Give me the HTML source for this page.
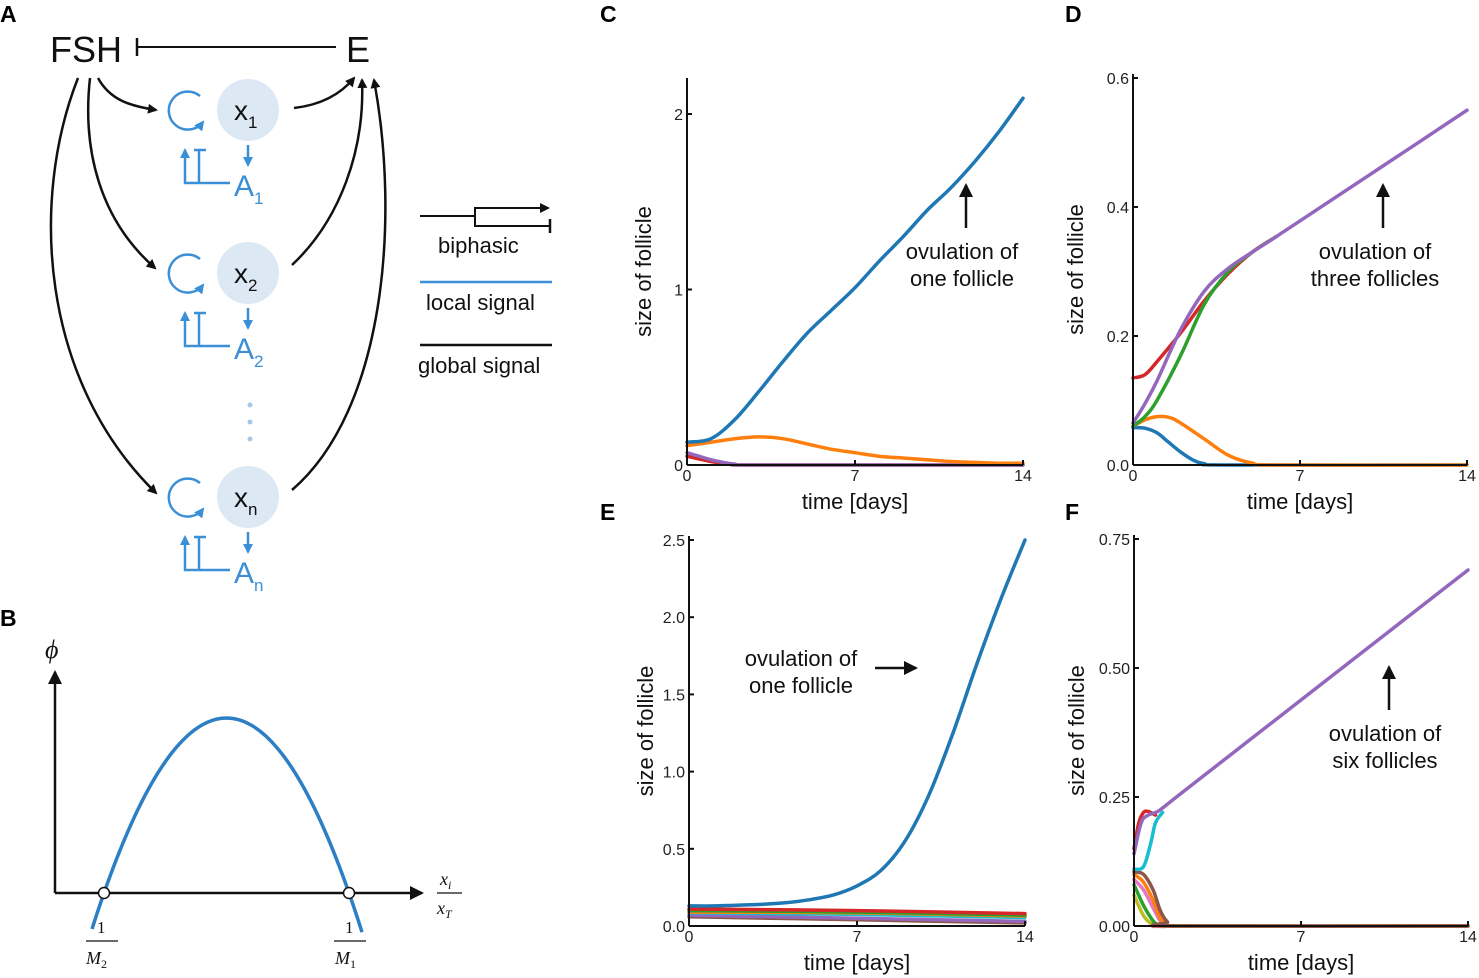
<!DOCTYPE html>
<html><head><meta charset="utf-8">
<style>
html,body{margin:0;padding:0;background:#fff;}
svg{display:block;font-family:"Liberation Sans","DejaVu Sans",sans-serif;}
.tick{font-size:16px;fill:#222;}
.lab{font-size:22px;fill:#111;}
.pl{font-size:23px;font-weight:bold;fill:#000;}
</style></head>
<body>
<svg id="fig" width="1479" height="978" viewBox="0 0 1479 978" xmlns="http://www.w3.org/2000/svg">
<defs>
<marker id="ak" markerWidth="10" markerHeight="10" refX="8" refY="5" orient="auto" markerUnits="userSpaceOnUse"><path d="M0,0 L10,5 L0,10 z" fill="#111"/></marker>
<marker id="ab" markerWidth="10" markerHeight="10" refX="8" refY="5" orient="auto" markerUnits="userSpaceOnUse"><path d="M0,0 L10,5 L0,10 z" fill="#3a8fd6"/></marker>
<marker id="ak2" markerWidth="14" markerHeight="14" refX="12" refY="7" orient="auto" markerUnits="userSpaceOnUse"><path d="M0,0 L14,7 L0,14 z" fill="#111"/></marker>
</defs>

<text class="pl" x="0" y="22">A</text>
<text class="pl" x="0" y="626">B</text>
<text class="pl" x="600" y="22">C</text>
<text class="pl" x="1065" y="22">D</text>
<text class="pl" x="600" y="520">E</text>
<text class="pl" x="1065" y="520">F</text>

<g id="panelA">
<text x="50" y="62" font-size="36" fill="#111">FSH</text>
<text x="346" y="62" font-size="36" fill="#111">E</text>
<line x1="137" y1="47" x2="336" y2="47" stroke="#111" stroke-width="2"/>
<line x1="137" y1="38" x2="137" y2="56" stroke="#111" stroke-width="2.5"/>
<g fill="none" stroke="#111" stroke-width="2.5">
<path d="M98,78 C110,100 130,106 156,110" marker-end="url(#ak)"/>
<path d="M90,78 C82,150 100,220 155,268" marker-end="url(#ak)"/>
<path d="M78,78 C30,200 40,380 156,493" marker-end="url(#ak)"/>
<path d="M294,108 C320,105 340,95 354,78" marker-end="url(#ak)"/>
<path d="M292,265 C340,220 365,150 362,80" marker-end="url(#ak)"/>
<path d="M292,490 C385,410 400,220 374,80" marker-end="url(#ak)"/>
</g>
<circle cx="250" cy="405" r="2.5" fill="#a9c6e4"/>
<circle cx="250" cy="422" r="2.5" fill="#a9c6e4"/>
<circle cx="250" cy="439" r="2.5" fill="#a9c6e4"/>
</g>

<g>
<polyline points="420,216 475,216 475,208 548,208" fill="none" stroke="#111" stroke-width="2" marker-end="url(#ak)"/>
<polyline points="475,208 475,226 549,226" fill="none" stroke="#111" stroke-width="2"/>
<line x1="550" y1="219" x2="550" y2="233" stroke="#111" stroke-width="2.5"/>
<text x="438" y="253" font-size="22" fill="#111">biphasic</text>
<line x1="420" y1="282" x2="552" y2="282" stroke="#3a8fd6" stroke-width="2.5"/>
<text x="426" y="310" font-size="22" fill="#111">local signal</text>
<line x1="420" y1="345" x2="552" y2="345" stroke="#111" stroke-width="2.5"/>
<text x="418" y="373" font-size="22" fill="#111">global signal</text>
</g>

<g>
<line x1="55" y1="893" x2="55" y2="672" stroke="#111" stroke-width="2.5" marker-end="url(#ak2)"/>
<line x1="55" y1="893" x2="422" y2="893" stroke="#111" stroke-width="2.5" marker-end="url(#ak2)"/>
<text x="45" y="658" font-size="26" font-style="italic" fill="#111" font-family="Liberation Serif,serif">ϕ</text>
<path id="parab" fill="none" stroke="#2c7fc4" stroke-width="3.5"/>
<circle cx="104" cy="893" r="5.5" fill="#fff" stroke="#111" stroke-width="1.5"/>
<circle cx="349" cy="893" r="5.5" fill="#fff" stroke="#111" stroke-width="1.5"/>
<g font-family="Liberation Serif,serif" font-style="italic" fill="#111">
<text x="97" y="933" font-size="17" font-style="normal">1</text>
<line x1="86" y1="941" x2="118" y2="941" stroke="#111" stroke-width="1.2"/>
<text x="86" y="964" font-size="18">M<tspan font-size="12" dy="4" font-style="normal">2</tspan></text>
<text x="345" y="933" font-size="17" font-style="normal">1</text>
<line x1="334" y1="941" x2="366" y2="941" stroke="#111" stroke-width="1.2"/>
<text x="335" y="964" font-size="18">M<tspan font-size="12" dy="4" font-style="normal">1</tspan></text>
<text x="440" y="885" font-size="18">x<tspan font-size="12" dy="4">i</tspan></text>
<line x1="437" y1="893" x2="462" y2="893" stroke="#111" stroke-width="1.2"/>
<text x="437" y="914" font-size="18">x<tspan font-size="12" dy="4">T</tspan></text>
</g>
</g>

<g id="charts"></g>
</svg>

<script>
// ---- Panel C data ----
const cDays = [0,1,2,3,4,5,6,7,8,9,10,11,12,13,14];
const cBlue = [0.13,0.15,0.26,0.42,0.59,0.75,0.88,1.01,1.16,1.30,1.45,1.58,1.73,1.90,2.09];
const cOrange = [0.11,0.13,0.15,0.16,0.15,0.12,0.09,0.07,0.05,0.04,0.03,0.02,0.015,0.01,0.01];
const cPurpleDays = [0,0.5,1,1.5,2,3,14];
const cPurple = [0.07,0.05,0.03,0.015,0.005,0,0];
const cRed = [0.05,0.035,0.02,0.01,0.003,0,0];
const cTicksY = [0,1,2];
// ---- Panel D data ----
const dBlueDays = [0,0.5,1,1.5,2,2.5,3,4,14];
const dBlue = [0.058,0.057,0.05,0.035,0.02,0.008,0.002,0,0];
const dOrangeDays = [0,0.5,1,1.5,2,3,4,5,6,14];
const dOrange = [0.06,0.07,0.075,0.074,0.065,0.04,0.015,0.003,0,0];
const dRiseDays = [0,0.5,1,2,3,4,5,6];
const dRed = [0.135,0.14,0.16,0.205,0.255,0.297,0.33,0.354];
const dGreen = [0.06,0.075,0.1,0.17,0.25,0.3,0.33,0.354];
const dPurpleDays = [0,0.5,1,2,3,4,5,6,8,10,12,14];
const dPurple = [0.065,0.095,0.13,0.21,0.27,0.305,0.33,0.354,0.403,0.452,0.501,0.55];
const dTicksY = [0,0.2,0.4,0.6];
// ---- Panel E data ----
const eDays = [0,1,2,3,4,5,6,7,8,9,10,11,12,13,14];
const eBlue = [0.13,0.13,0.135,0.14,0.15,0.17,0.2,0.26,0.36,0.55,0.85,1.25,1.7,2.12,2.5];
const eOtherDays = [0,7,14];
const eRed = [0.11,0.1,0.08];
const eOrange = [0.09,0.085,0.065];
const eGreen = [0.1,0.09,0.07];
const ePurple = [0.07,0.05,0.03];
const eCyan = [0.085,0.075,0.055];
const eBrown = [0.06,0.04,0.02];
const eTicksY = [0,0.5,1.0,1.5,2.0,2.5];
// ---- Panel F data ----
const fPurpleDays = [0,0.3,0.6,1,1.5,2,4,6,8,10,12,14];
const fPurple = [0.14,0.2,0.215,0.222,0.24,0.258,0.33,0.402,0.474,0.546,0.618,0.69];
const fRedDays = [0,0.2,0.4,0.6,0.9];
const fRed = [0.15,0.2,0.22,0.222,0.215];
const fCyanDays = [0,0.4,0.7,0.9,1.2];
const fCyan = [0.11,0.115,0.16,0.2,0.22];
const fDecayDays = [0,0.4,0.8,1.1,1.4,1.8,14];
const fBrown = [0.105,0.1,0.07,0.03,0.008,0,0];
const fOrange = [0.1,0.085,0.05,0.015,0.003,0,0];
const fPink = [0.09,0.07,0.035,0.01,0,0,0];
const fGreen = [0.08,0.04,0.01,0,0,0,0];
const fOlive = [0.06,0.02,0.002,0,0,0,0];
const fTicksY = [0,0.25,0.5,0.75];
const xTicks = [0,7,14];

const NS="http://www.w3.org/2000/svg";
const root=document.getElementById('charts');
function mk(tag,attrs,parent){const e=document.createElementNS(NS,tag);for(const k in attrs)e.setAttribute(k,attrs[k]);(parent||root).appendChild(e);return e;}
function smooth(p){
  let d='M'+p[0][0].toFixed(1)+','+p[0][1].toFixed(1);
  for(let i=0;i<p.length-1;i++){
    const p0=p[i-1]||p[i],p1=p[i],p2=p[i+1],p3=p[i+2]||p2;
    const c1=[p1[0]+(p2[0]-p0[0])/6,p1[1]+(p2[1]-p0[1])/6];
    const c2=[p2[0]-(p3[0]-p1[0])/6,p2[1]-(p3[1]-p1[1])/6];
    d+=' C'+c1[0].toFixed(1)+','+c1[1].toFixed(1)+' '+c2[0].toFixed(1)+','+c2[1].toFixed(1)+' '+p2[0].toFixed(1)+','+p2[1].toFixed(1);
  }
  return d;
}

function panel(key,x0,x1,y0px,yTopVal,yTopPx,axisTop,ticksY,fmt,series,titleOff){
  const g=mk('g',{});
  
  
  const sx=t=>x0+(x1-x0)*t/14;
  const sy=v=>y0px-(y0px-yTopPx)*v/yTopVal;
  series.forEach(s=>{
    const pts=s.x.map((t,i)=>[sx(t),Math.min(y0px,sy(s.y[i]))]);
    const p=mk('path',{d:smooth(pts),fill:'none',stroke:s.c,'stroke-width':3.5,'stroke-linejoin':'round','stroke-linecap':'round'},g);
    
    
  });
  const ax=mk('g',{stroke:'#111','stroke-width':2},g);
  
  
  mk('line',{x1:x0,y1:axisTop,x2:x0,y2:y0px},ax);
  mk('line',{x1:x0,y1:y0px,x2:x1,y2:y0px},ax);
  ticksY.forEach(v=>{
    mk('line',{x1:x0,y1:sy(v),x2:x0+5,y2:sy(v)},ax);
    const t=mk('text',{x:x0-4,y:sy(v)+6,'text-anchor':'end',class:'tick'},g);
    t.textContent=fmt(v);
    
    
  });
  xTicks.forEach(v=>{
    mk('line',{x1:sx(v),y1:y0px,x2:sx(v),y2:y0px-5},ax);
    const t=mk('text',{x:sx(v),y:y0px+16,'text-anchor':'middle',class:'tick'},g);
    t.textContent=v;
    
    
  });
  const xl=mk('text',{x:(x0+x1)/2,y:y0px+44,'text-anchor':'middle',class:'lab'},g);
  xl.textContent='time [days]';
  
  
  const yx=x0-titleOff, yy=(axisTop+y0px)/2;
  const yl=mk('text',{x:yx,y:yy,'text-anchor':'middle',class:'lab',transform:'rotate(-90 '+yx+' '+yy+')'},g);
  yl.textContent='size of follicle';
  
  
}
const B='#1f77b4',O='#ff7f0e',G='#2ca02c',R='#d62728',P='#9467bd',BR='#8c564b',PK='#e377c2',OL='#bcbd22',CY='#17becf';

panel('c',687,1023,465,2,114,78,cTicksY,v=>String(v),[
 {n:'red',x:cPurpleDays,y:cRed,c:R},
 {n:'purple',x:cPurpleDays,y:cPurple,c:P},
 {n:'orange',x:cDays,y:cOrange,c:O},
 {n:'blue',x:cDays,y:cBlue,c:B}],36);
panel('d',1133,1467,465,0.6,78,74,dTicksY,v=>v.toFixed(1),[
 {n:'blue',x:dBlueDays,y:dBlue,c:B},
 {n:'orange',x:dOrangeDays,y:dOrange,c:O},
 {n:'red',x:dRiseDays,y:dRed,c:R},
 {n:'green',x:dRiseDays,y:dGreen,c:G},
 {n:'purple',x:dPurpleDays,y:dPurple,c:P}],50);
panel('e',689,1025,926,2.5,540,536,eTicksY,v=>v.toFixed(1),[
 {n:'brown',x:eOtherDays,y:eBrown,c:BR},
 {n:'purple',x:eOtherDays,y:ePurple,c:P},
 {n:'cyan',x:eOtherDays,y:eCyan,c:CY},
 {n:'orange',x:eOtherDays,y:eOrange,c:O},
 {n:'green',x:eOtherDays,y:eGreen,c:G},
 {n:'red',x:eOtherDays,y:eRed,c:R},
 {n:'blue',x:eDays,y:eBlue,c:B}],36);
panel('f',1134,1468,926,0.75,539,535,fTicksY,v=>v.toFixed(2),[
 {n:'olive',x:fDecayDays,y:fOlive,c:OL},
 {n:'green',x:fDecayDays,y:fGreen,c:G},
 {n:'pink',x:fDecayDays,y:fPink,c:PK},
 {n:'orange',x:fDecayDays,y:fOrange,c:O},
 {n:'brown',x:fDecayDays,y:fBrown,c:BR},
 {n:'cyan',x:fCyanDays,y:fCyan,c:CY},
 {n:'red',x:fRedDays,y:fRed,c:R},
 {n:'purple',x:fPurpleDays,y:fPurple,c:P}],50);

function ann(x,y,lines,name){const t=mk('text',{x:x,y:y,'text-anchor':'middle',class:'lab'});
 
 
 lines.forEach((l,i)=>{const s=mk('tspan',{x:x,dy:i?27:0},t);s.textContent=l;});}
function arr(x1,y1,x2,y2){const l=mk('line',{x1,y1,x2,y2,stroke:'#111','stroke-width':2.5,'marker-end':'url(#ak2)'});
 
 }
ann(962,259,['ovulation of','one follicle'],'annotation-c');arr(966,228,966,185);
ann(1375,259,['ovulation of','three follicles'],'annotation-d');arr(1383,228,1383,185);
ann(801,666,['ovulation of','one follicle'],'annotation-e');arr(875,668,916,668);
ann(1385,741,['ovulation of','six follicles'],'annotation-f');arr(1389,710,1389,667);

(function(){const pts=[];for(let x=92;x<=362;x+=3){const y=893-0.01166*(x-104)*(349-x);pts.push((pts.length?'L':'M')+x+','+y.toFixed(1));}
document.getElementById('parab').setAttribute('d',pts.join(' '));})();

const A=document.getElementById('panelA');
[[110,'1'],[273,'2'],[497,'n']].forEach(([cy,s],i)=>{
 const g=mk('g',{},A);
 
 
 mk('circle',{cx:248,cy:cy,r:31,fill:'#dce8f4'},g);
 const t=mk('text',{x:234,y:cy+10,'font-size':28,fill:'#111'},g);
 t.innerHTML='x<tspan font-size="17" dy="8">'+s+'</tspan>';
 mk('path',{d:`M200,${cy-14} A19,19 0 1 0 203,${cy+12}`,fill:'none',stroke:'#3a8fd6','stroke-width':2.5,'marker-end':'url(#ab)'},g);
 mk('line',{x1:248,y1:cy+35,x2:248,y2:cy+55,stroke:'#3a8fd6','stroke-width':2.5,'marker-end':'url(#ab)'},g);
 const a=mk('text',{x:234,y:cy+86,'font-size':30,fill:'#3a8fd6'},g);
 a.innerHTML='A<tspan font-size="17" dy="8">'+s+'</tspan>';
 mk('polyline',{points:`230,${cy+73} 185,${cy+73} 185,${cy+40}`,fill:'none',stroke:'#3a8fd6','stroke-width':2.5,'marker-end':'url(#ab)'},g);
 mk('line',{x1:199,y1:cy+73,x2:199,y2:cy+40,stroke:'#3a8fd6','stroke-width':2.5},g);
 mk('line',{x1:194,y1:cy+40,x2:206,y2:cy+40,stroke:'#3a8fd6','stroke-width':2.5},g);
});
</script>
</body></html>
